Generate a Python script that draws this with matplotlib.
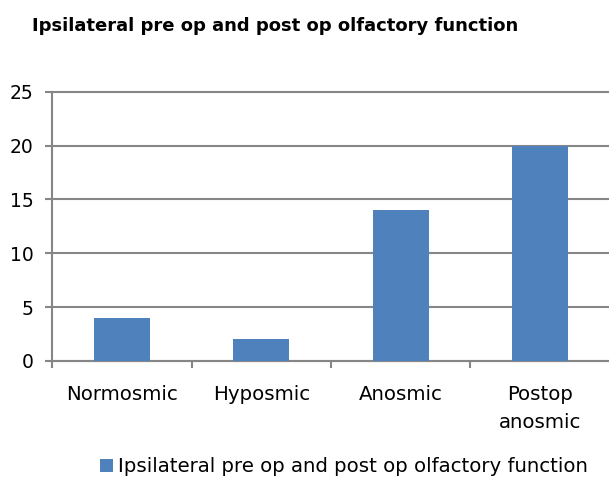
import matplotlib.pyplot as plt

# dados
categorias = ["Normosmic", "Hyposmic", "Anosmic", "Postop\nanosmic"]
valores = [4, 2, 14, 20]
serie = "Ipsilateral pre op and post op olfactory function"
titulo = "Ipsilateral pre op and post op olfactory function"

plt.rcParams['font.family'] = ['DejaVu Sans']

fig = plt.figure(figsize=(6.09, 4.79), dpi=100)
ax = fig.add_axes([52/609, 118/479, 558/609, 269.3/479])

cor_grade = '#868686'
x = range(len(categorias))
ax.bar(x, valores, width=0.4, color='#4F81BD', label=serie, zorder=3)

ax.set_ylim(0, 25)
ax.set_yticks([0, 5, 10, 15, 20, 25])
ax.set_xlim(-0.5, len(categorias) - 0.5)
ax.set_xticks([i - 0.5 for i in range(len(categorias))])
ax.set_xticklabels([])
ax.set_xticks(list(x), minor=True)
ax.set_xticklabels(categorias, minor=True, fontsize=14.2, linespacing=1.6)
ax.tick_params(axis='x', which='minor', length=0, pad=17)
ax.tick_params(axis='x', which='major', length=5, width=1.5, color=cor_grade)
ax.tick_params(axis='y', length=5, width=1.5, color=cor_grade, labelsize=13.5, pad=8.5)
ax.grid(axis='y', color=cor_grade, linewidth=1.5, zorder=0)
for linha in ax.get_ygridlines():
    linha.set_clip_on(False)

for lado in ['top', 'right']:
    ax.spines[lado].set_visible(False)
for lado in ['left', 'bottom']:
    ax.spines[lado].set_color(cor_grade)
    ax.spines[lado].set_linewidth(1.5)

fig.text(32/609, 1 - 26/479, titulo, fontsize=13, fontweight='bold', va='center', ha='left')

fig.legend(loc='center', bbox_to_anchor=(344/609, 1 - 467/479), frameon=False,
           fontsize=14.2, handlelength=0.65, handleheight=0.65, handletextpad=0.3)

plt.savefig('out.png', dpi=100)
